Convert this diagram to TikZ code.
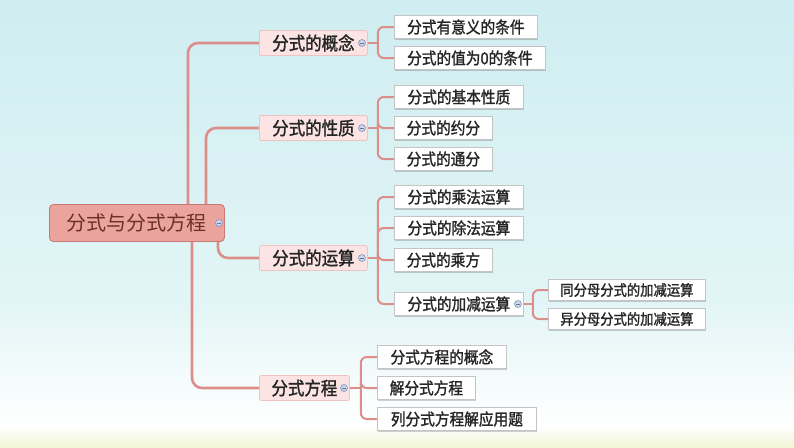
\documentclass[tikz,border=0pt]{standalone}
\usepackage{fontspec}
\newfontfamily\cjk{Noto Sans CJK SC}
\newfontfamily\cjkb{Noto Sans CJK SC}[FakeBold=1.5, FakeStretch=0.9]
\usetikzlibrary{shadows}
\definecolor{bgtop}{HTML}{CFEDF1}
\definecolor{bgmid}{HTML}{E2F5F6}
\definecolor{bgyel}{HTML}{F1F7D6}
\definecolor{conn}{HTML}{DC8E8A}
\definecolor{leafborder}{HTML}{C4C4C4}
\definecolor{lonefill}{HTML}{FCE4E4}
\definecolor{loneborder}{HTML}{EDC3C3}
\definecolor{rootfill}{HTML}{EBA39D}
\definecolor{rootborder}{HTML}{C97A74}
\definecolor{roottext}{HTML}{6B302C}
\definecolor{textc}{HTML}{262626}
\definecolor{minfill}{HTML}{CBD6EA}
\definecolor{minborder}{HTML}{7C93BD}
\pgfdeclarelayer{bg}
\pgfdeclarelayer{back}
\pgfsetlayers{bg,back,main}
\begin{document}
\begin{tikzpicture}[x=1pt,y=-1pt,
  leaf/.style={draw=leafborder, fill=white, line width=0.8pt, minimum height=23pt, inner sep=0pt, anchor=west, text=textc,
    font=\cjkb\fontsize{16.3}{18}\selectfont,
    drop shadow={shadow xshift=1pt, shadow yshift=-1pt, opacity=0.18, fill=black}},
  smallleaf/.style={leaf, minimum height=21pt, font=\cjkb\fontsize{14.8}{16}\selectfont},
  lone/.style={draw=loneborder, fill=lonefill, line width=0.8pt, rounded corners=2pt, minimum height=25pt, inner sep=0pt, anchor=west, text=textc,
    font=\cjkb\fontsize{18.3}{20}\selectfont},
  rootbox/.style={draw=rootborder, fill=rootfill, line width=0.9pt, rounded corners=4pt, minimum height=37pt, inner sep=0pt, anchor=west, text=roottext,
    font=\cjk\fontsize{20}{22}\selectfont},
  minus/.style={circle, minimum size=7pt, inner sep=0pt, fill=minfill, draw=minborder, line width=0.6pt,
    path picture={\draw[minborder!80!black, line width=1pt] ([xshift=-2pt]path picture bounding box.center) -- ([xshift=2pt]path picture bounding box.center);}},
  mainc/.style={draw=conn, line width=2.6pt, rounded corners=10pt},
  subc/.style={draw=conn, line width=2pt, rounded corners=6pt}
]
\useasboundingbox (0,0) rectangle (794,447);
\begin{pgfonlayer}{bg}
\shade[top color=bgtop, bottom color=bgmid] (0,0) rectangle (794,300);
\shade[top color=bgmid, bottom color=white] (0,300) rectangle (794,426);
\shade[top color=white, bottom color=bgyel] (0,426) rectangle (794,447);
\end{pgfonlayer}

% root
\node[rootbox, minimum width=175pt] (root) at (49,223) {分式与分式方程};
\node[minus] (mroot) at (219,223) {};

% level 1
\node[lone, minimum width=108pt] (c1) at (259,43) {分式的概念\hspace{6pt}};
\node[lone, minimum width=108pt] (c2) at (259,128) {分式的性质\hspace{6pt}};
\node[lone, minimum width=108pt] (c3) at (259,258) {分式的运算\hspace{6pt}};
\node[lone, minimum width=90pt] (c4) at (259,388) {分式方程\hspace{6pt}};
\node[minus] (m1) at (362,43) {};
\node[minus] (m2) at (362,128) {};
\node[minus] (m3) at (362,258) {};
\node[minus] (m4) at (344,388) {};

% leaves
\node[leaf, minimum width=143pt] (l11) at (394,27) {分式有意义的条件};
\node[leaf, minimum width=151pt] (l12) at (394,58) {分式的值为0的条件};
\node[leaf, minimum width=129pt] (l21) at (394,97) {分式的基本性质};
\node[leaf, minimum width=98pt] (l22) at (394,128) {分式的约分};
\node[leaf, minimum width=98pt] (l23) at (394,159) {分式的通分};
\node[leaf, minimum width=129pt] (l31) at (394,197) {分式的乘法运算};
\node[leaf, minimum width=129pt] (l32) at (394,228) {分式的除法运算};
\node[leaf, minimum width=98pt] (l33) at (394,260) {分式的乘方};
\node[leaf, minimum width=129pt] (l34) at (394,304) {分式的加减运算\hspace{5pt}};
\node[minus] (m34) at (518,304) {};
\node[smallleaf, minimum width=157pt] (l341) at (548,290) {同分母分式的加减运算};
\node[smallleaf, minimum width=157pt] (l342) at (548,319) {异分母分式的加减运算};
\node[leaf, minimum width=129pt] (l41) at (377,357) {分式方程的概念};
\node[leaf, minimum width=98pt] (l42) at (377,388) {解分式方程};
\node[leaf, minimum width=159pt] (l43) at (377,419) {列分式方程解应用题};

\begin{pgfonlayer}{back}
% root connectors
\draw[mainc] ([xshift=139pt]root.north west) |- (c1.west);
\draw[mainc] ([xshift=157pt]root.north west) |- (c2.west);
\draw[mainc] ([xshift=169pt]root.south west) |- (c3.west);
\draw[mainc] ([xshift=143pt]root.south west) |- (c4.west);
% brackets
\coordinate (b1) at ([xshift=10pt]c1.east);
\coordinate (b2) at ([xshift=10pt]c2.east);
\coordinate (b3) at ([xshift=10pt]c3.east);
\coordinate (b4) at ([xshift=11pt]c4.east);
\coordinate (b34) at ([xshift=9pt]l34.east);
\draw[subc] (c1.east) -- (b1);
\draw[subc] (b1) |- (l11.west);
\draw[subc] (b1) |- (l12.west);
\draw[subc] (c2.east) -- (b2);
\draw[subc] (b2) |- (l21.west);
\draw[subc] (b2) |- (l22.west);
\draw[subc] (b2) |- (l23.west);
\draw[subc] (c3.east) -- (b3);
\draw[subc] (b3) |- (l31.west);
\draw[subc] (b3) |- (l32.west);
\draw[subc] (b3) |- (l33.west);
\draw[subc] (b3) |- (l34.west);
\draw[subc] (c4.east) -- (b4);
\draw[subc] (b4) |- (l41.west);
\draw[subc] (b4) |- (l42.west);
\draw[subc] (b4) |- (l43.west);
\draw[subc] (l34.east) -- (b34);
\draw[subc] (b34) |- (l341.west);
\draw[subc] (b34) |- (l342.west);
\end{pgfonlayer}
\end{tikzpicture}
\end{document}
